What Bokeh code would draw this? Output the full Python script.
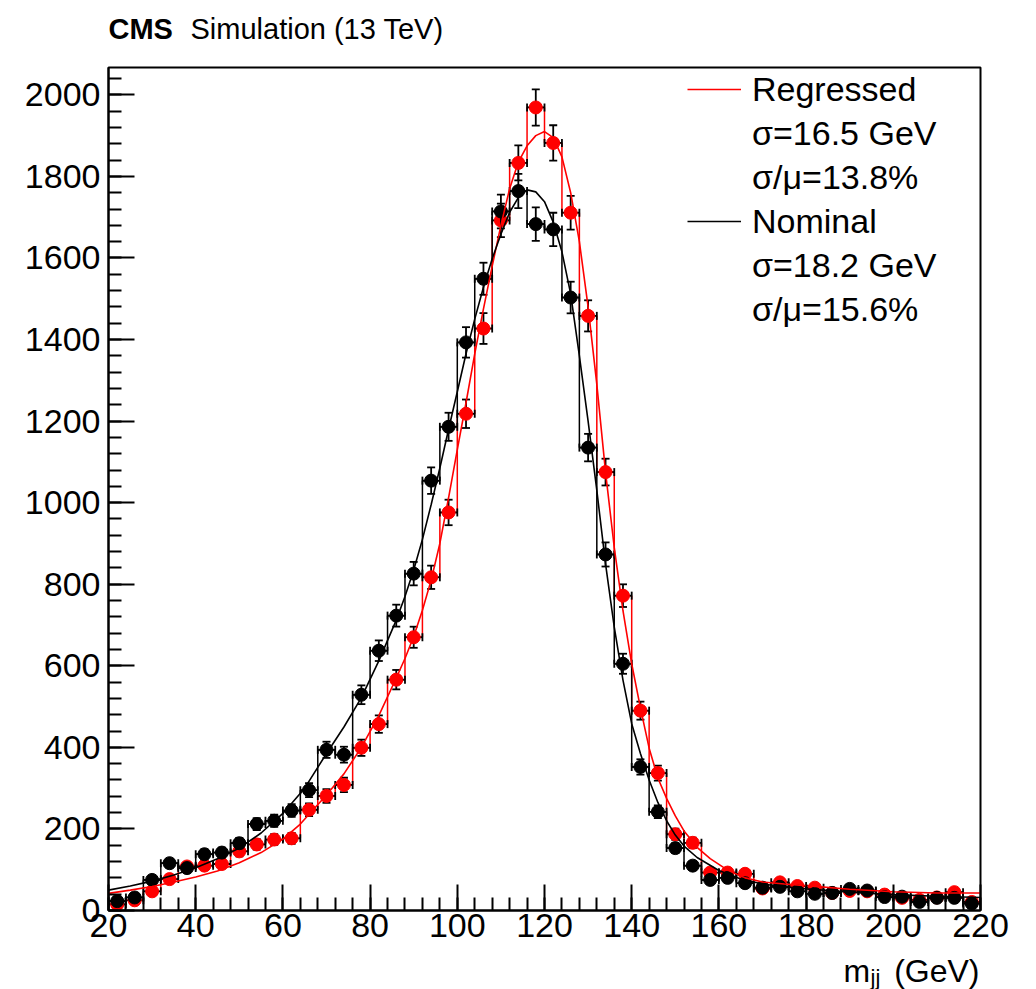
from bokeh.plotting import figure
from bokeh.layouts import column
from bokeh.models import Range1d, FixedTicker, Legend, LegendItem
from bokeh.core.properties import value
from bokeh.embed import file_html
from bokeh.resources import INLINE

# ---------------- data ----------------
bin_centers = [22, 26, 30, 34, 38, 42, 46, 50, 54, 58, 62, 66, 70, 74, 78, 82, 86, 90, 94, 98,
               102, 106, 110, 114, 118, 122, 126, 130, 134, 138, 142, 146, 150, 154, 158, 162,
               166, 170, 174, 178, 182, 186, 190, 194, 198, 202, 206, 210, 214, 218]
bin_half_width = 2

nominal = [23, 32, 75, 116, 104, 138, 142, 165, 212, 220, 245, 295, 394, 382, 529, 637, 723, 826,
           1054, 1186, 1393, 1549, 1714, 1764, 1683, 1670, 1503, 1135, 873, 605, 352, 242, 153,
           110, 75, 80, 67, 56, 58, 47, 41, 43, 53, 49, 33, 34, 21, 31, 31, 17]
regressed = [15, 25, 47, 77, 108, 110, 114, 145, 162, 174, 177, 247, 281, 308, 399, 457, 566, 670,
             817, 976, 1218, 1427, 1692, 1833, 1969, 1882, 1711, 1458, 1075, 772, 490, 337, 187,
             166, 93, 93, 90, 54, 69, 60, 56, 43, 48, 47, 39, 31, 26, 32, 45, 21]

fit_nom_x = [20, 25, 30, 35, 40, 45, 50, 55, 60, 65, 70, 74, 78, 82, 86, 88, 90, 92, 94, 96, 98,
             100, 102, 104, 106, 108, 110, 112, 114, 116, 118, 120, 122, 124, 126, 128, 130, 132,
             134, 136, 138, 140, 142, 144, 146, 148, 150, 152, 155, 160, 165, 170, 175, 180, 190,
             200, 210, 220]
fit_nom_y = [50, 60, 72, 87, 105, 127, 153, 190, 238, 300, 385, 450, 522, 612, 712, 770, 835, 910,
             995, 1085, 1180, 1272, 1365, 1450, 1528, 1598, 1658, 1712, 1748, 1767, 1762, 1738,
             1688, 1615, 1512, 1360, 1200, 1030, 850, 695, 565, 458, 385, 320, 265, 220, 185, 158,
             130, 98, 77, 65, 58, 53, 45, 39, 35, 32]

fit_reg_x = [20, 25, 30, 35, 40, 45, 50, 55, 60, 64, 66, 70, 74, 78, 82, 86, 88, 90, 92, 94, 96,
             98, 100, 102, 104, 106, 108, 110, 112, 114, 116, 118, 120, 122, 124, 126, 128, 130,
             132, 134, 136, 138, 140, 142, 144, 146, 148, 150, 152, 155, 158, 162, 166, 170, 175,
             180, 190, 200, 210, 220]
fit_reg_y = [42, 50, 59, 70, 82, 97, 117, 142, 175, 212, 236, 283, 335, 400, 478, 570, 618, 672,
             736, 810, 900, 1012, 1130, 1245, 1365, 1475, 1580, 1680, 1770, 1835, 1875, 1900,
             1910, 1895, 1848, 1760, 1640, 1480, 1290, 1075, 890, 735, 605, 497, 398, 325, 275,
             232, 195, 155, 127, 99, 80, 70, 65, 61, 52, 46, 43, 43]

x_major = [20, 40, 60, 80, 100, 120, 140, 160, 180, 200, 220]
x_minor = list(range(20, 221, 4))
y_major = [0, 200, 400, 600, 800, 1000, 1200, 1400, 1600, 1800, 2000]
y_minor = list(range(0, 2067, 40))

legend_labels = ["Regressed", "\u03c3=16.5 GeV", "\u03c3/\u03bc=13.8%",
                 "Nominal", "\u03c3=18.2 GeV", "\u03c3/\u03bc=15.6%"]
header_texts = ["CMS", "Simulation (13 TeV)"]
xtitle_texts = ["m", "jj", "(GeV)"]

# ---------------- layout ----------------
W = 1036
HEAD_H = 48
LEFT, RIGHT, TOP, BOTTOM = 108, 56, 19, 41
FW, FH = 872, 843
MAIN_H = TOP + FH + BOTTOM
FOOT_H = 989 - HEAD_H - MAIN_H
XMIN, XMAX, YMIN, YMAX = 20, 220, 0, 2067
ppx = FW / (XMAX - XMIN)
ppy = FH / (YMAX - YMIN)
FONT = "Liberation Sans"


def text_strip(height):
    # strip whose frame lines up with the main frame; x in page pixels, y from the strip top
    f = figure(width=W, height=height, frame_width=FW, frame_height=height,
               x_range=Range1d(LEFT, LEFT + FW), y_range=Range1d(height, 0),
               x_axis_type=None, y_axis_type=None,
               output_backend="svg", toolbar_location=None,
               min_border_left=LEFT, min_border_right=RIGHT, min_border_top=0,
               min_border_bottom=0)
    f.title = None
    f.grid.visible = False
    f.outline_line_color = None
    f.background_fill_color = "white"
    f.border_fill_color = "white"
    return f


# header strip (text vertically centred on its line)
head = text_strip(HEAD_H)
head.text(x=[108], y=[28], text=[header_texts[0]], text_font=value(FONT),
          text_font_style="bold", text_font_size="29px", text_baseline="middle",
          text_color="black")
head.text(x=[190], y=[28], text=[header_texts[1]], text_font=value(FONT),
          text_font_size="29px", text_baseline="middle", text_color="black")

# main plot
p = figure(width=W, height=MAIN_H, frame_width=FW, frame_height=FH,
           x_range=Range1d(XMIN, XMAX), y_range=Range1d(YMIN, YMAX),
           output_backend="svg", toolbar_location=None,
           min_border_left=LEFT, min_border_right=RIGHT, min_border_top=TOP,
           min_border_bottom=BOTTOM)
p.grid.visible = False
p.background_fill_color = "white"
p.border_fill_color = "white"
p.outline_line_color = "black"
p.outline_line_width = 2

for ax, maj, mnr in ((p.xaxis, x_major, x_minor), (p.yaxis, y_major, y_minor)):
    ax.ticker = FixedTicker(ticks=maj, minor_ticks=mnr)
    ax.axis_line_width = 2
    ax.axis_line_color = "black"
    ax.major_tick_in = 26
    ax.major_tick_out = 0
    ax.minor_tick_in = 13
    ax.minor_tick_out = 0
    ax.major_tick_line_width = 2
    ax.minor_tick_line_width = 2
    ax.major_label_text_font = FONT
    ax.major_label_text_font_size = "34px"
    ax.major_label_text_color = "black"
p.xaxis.major_label_standoff = 3
p.yaxis.major_label_standoff = 8


def draw_hist(vals, color):
    xs, ys = [], []
    for c, v in zip(bin_centers, vals):
        xs += [c - bin_half_width, c + bin_half_width]
        ys += [v, v]
    p.line(xs, ys, line_color=color, line_width=1.5)


def draw_errors(vals, color):
    errs = [v ** 0.5 for v in vals]
    cx = 4 / ppx
    cy = 4 / ppy
    p.segment(x0=bin_centers, y0=[v - e for v, e in zip(vals, errs)],
              x1=bin_centers, y1=[v + e for v, e in zip(vals, errs)],
              line_color="black", line_width=1.8)
    for sign in (-1, 1):
        yy = [v + sign * e for v, e in zip(vals, errs)]
        p.segment(x0=[c - cx for c in bin_centers], y0=yy,
                  x1=[c + cx for c in bin_centers], y1=yy,
                  line_color="black", line_width=1.8)
    p.segment(x0=[c - bin_half_width for c in bin_centers], y0=vals,
              x1=[c + bin_half_width for c in bin_centers], y1=vals,
              line_color="black", line_width=1.8)
    for sign in (-1, 1):
        xx = [c + sign * bin_half_width for c in bin_centers]
        p.segment(x0=xx, y0=[v - cy for v in vals], x1=xx, y1=[v + cy for v in vals],
                  line_color="black", line_width=1.8)
    p.scatter(bin_centers, vals, marker="circle", size=13, fill_color=color, line_color=color)


draw_hist(regressed, "red")
draw_hist(nominal, "black")
draw_errors(regressed, "red")
draw_errors(nominal, "black")

r_fit = p.line(fit_reg_x, fit_reg_y, line_color="red", line_width=1.6)
n_fit = p.line(fit_nom_x, fit_nom_y, line_color="black", line_width=1.6)
dummy = p.line([], [], line_alpha=0)

items = [LegendItem(label=legend_labels[0], renderers=[r_fit]),
         LegendItem(label=legend_labels[1], renderers=[dummy]),
         LegendItem(label=legend_labels[2], renderers=[dummy]),
         LegendItem(label=legend_labels[3], renderers=[n_fit]),
         LegendItem(label=legend_labels[4], renderers=[dummy]),
         LegendItem(label=legend_labels[5], renderers=[dummy])]
row_h = 44
legend = Legend(items=items, location=(687 - LEFT, FH - 6 * row_h), glyph_width=54,
                glyph_height=row_h, label_height=row_h, spacing=0, padding=0, margin=0,
                label_standoff=11, border_line_alpha=0, background_fill_alpha=0,
                label_text_font=FONT, label_text_font_size="34px", label_text_color="black")
p.add_layout(legend)

# footer strip with the x-axis title  m_jj (GeV)
foot = text_strip(FOOT_H)
fh_mid = FOOT_H / 2
foot.text(x=[843], y=[fh_mid], text=[xtitle_texts[0]], text_font=value(FONT),
          text_font_size="32px", text_baseline="middle", text_color="black")
foot.text(x=[870], y=[fh_mid + 7], text=[xtitle_texts[1]], text_font=value(FONT),
          text_font_size="22px", text_baseline="middle", text_color="black")
foot.text(x=[979], y=[fh_mid], text=[xtitle_texts[2]], text_font=value(FONT),
          text_font_size="32px", text_baseline="middle", text_align="right",
          text_color="black")

layout = column(head, p, foot, spacing=0)
open("out.html", "w").write(file_html(layout, INLINE))
